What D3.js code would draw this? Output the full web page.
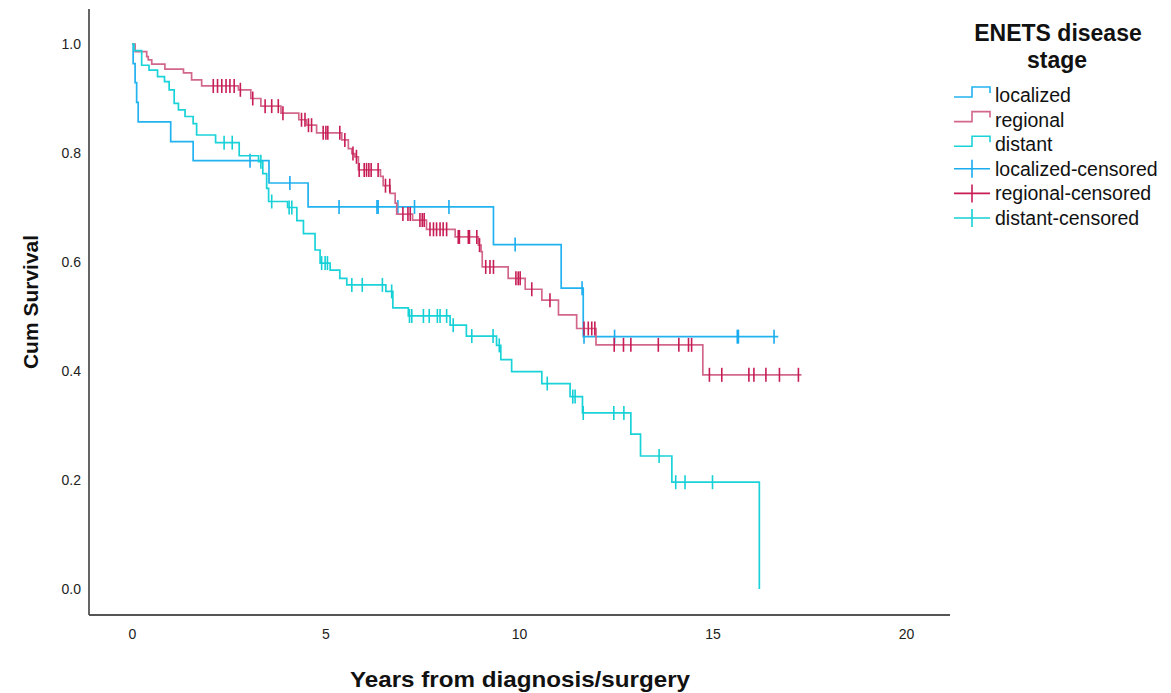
<!DOCTYPE html>
<html>
<head>
<meta charset="utf-8">
<script src="https://cdn.jsdelivr.net/npm/d3@7"></script>
<style>
  body { margin: 0; background: #fff; }
  text { font-family: "Liberation Sans", Arial, sans-serif; }
</style>
</head>
<body>
<script>
// Kaplan-Meier data: event times, survival after each event, censor times
const localizedT = [0.03, 0.08, 0.12, 0.16, 1.00, 1.58, 3.54, 4.55, 9.34, 11.09, 11.66];
const localizedS = [0.964, 0.929, 0.893, 0.857, 0.821, 0.786, 0.745, 0.701, 0.632, 0.552, 0.463];
const localizedCens = [3.05, 4.08, 5.35, 6.33, 6.36, 6.87, 7.30, 8.19, 9.90, 11.63, 11.68, 12.47, 15.64, 15.67, 16.59];
const localizedEnd = 16.70;

const regionalT = [0.08, 0.38, 0.42, 0.51, 0.85, 1.33, 1.54, 1.80, 2.75, 3.07, 3.33, 3.85, 4.31, 4.51, 4.77,
  5.42, 5.59, 5.68, 5.76, 5.85, 6.42, 6.49, 6.67, 6.80, 6.84, 7.25, 7.61, 8.35, 8.95, 9.02, 9.05, 9.72,
  10.16, 10.59, 11.02, 11.49, 11.99, 14.75];
const regionalS = [0.986, 0.977, 0.971, 0.963, 0.954, 0.947, 0.934, 0.923, 0.916, 0.900, 0.886, 0.873, 0.861, 0.851, 0.837,
  0.824, 0.808, 0.799, 0.793, 0.769, 0.757, 0.740, 0.726, 0.708, 0.688, 0.677, 0.660, 0.646, 0.631, 0.619, 0.591, 0.570,
  0.550, 0.530, 0.503, 0.478, 0.448, 0.393];
const regionalCens = [2.10, 2.21, 2.32, 2.43, 2.53, 2.64, 2.80, 3.12, 3.44, 3.61, 3.78, 3.90, 4.38, 4.47, 4.56, 4.64,
  4.94, 5.01, 5.06, 5.37, 5.50, 5.71, 5.80, 5.87, 6.00, 6.06, 6.12, 6.18, 6.36, 6.55, 6.66, 7.00, 7.13, 7.19,
  7.44, 7.50, 7.55, 7.70, 7.79, 7.87, 7.96, 8.04, 8.13, 8.43, 8.46, 8.69, 8.72, 8.91, 8.98, 9.14, 9.25, 9.34,
  9.92, 9.98, 10.03, 10.33, 10.80, 11.68, 11.79, 11.88, 11.96, 12.46, 12.70, 12.89, 13.60, 14.13, 14.38, 14.46,
  14.92, 15.24, 15.94, 16.07, 16.38, 16.73, 17.22];
const regionalEnd = 17.30;

const distantT = [0.05, 0.25, 0.44, 0.66, 0.84, 0.96, 1.09, 1.20, 1.37, 1.58, 1.67, 2.16, 2.77, 3.27, 3.38, 3.48, 3.53,
  4.02, 4.26, 4.43, 4.73, 4.86, 5.12, 5.37, 5.55, 6.56, 6.74, 7.14, 8.22, 8.64, 9.42, 9.53, 9.81, 10.59, 11.32,
  11.64, 12.89, 13.14, 13.95, 16.21];
const distantS = [0.988, 0.961, 0.952, 0.940, 0.931, 0.916, 0.891, 0.879, 0.867, 0.854, 0.833, 0.819, 0.795, 0.784, 0.762, 0.735, 0.711,
  0.700, 0.676, 0.652, 0.622, 0.598, 0.585, 0.570, 0.558, 0.546, 0.516, 0.501, 0.484, 0.464, 0.447, 0.421, 0.399, 0.377, 0.353,
  0.323, 0.284, 0.244, 0.196, 0.0];
const distantCens = [2.38, 2.59, 3.33, 3.61, 4.06, 4.13, 4.90, 4.99, 5.05, 5.68, 5.95, 6.47, 6.71, 7.17, 7.23, 7.53, 7.68,
  7.89, 7.96, 8.13, 8.30, 8.78, 9.33, 9.49, 10.73, 11.39, 11.45, 11.66, 12.45, 12.71, 13.62, 14.05, 14.29, 15.00];
const distantEnd = 16.21;

const xTicks = [0, 5, 10, 15, 20];
const yTicks = [0, 0.2, 0.4, 0.6, 0.8, 1.0];

const groups = [
  { name: "localized", t: localizedT, s: localizedS, cens: localizedCens, end: localizedEnd, line: "#22b2f0", mark: "#1aacef" },
  { name: "regional", t: regionalT, s: regionalS, cens: regionalCens, end: regionalEnd, line: "#d2678a", mark: "#c81c55" },
  { name: "distant", t: distantT, s: distantS, cens: distantCens, end: distantEnd, line: "#1ad3d8", mark: "#14d0d6" }
];

const w = 1171, h = 693;
const svg = d3.select("body").append("svg").attr("width", w).attr("height", h);

const x = d3.scaleLinear().domain([0, 20]).range([132, 906]);
const y = d3.scaleLinear().domain([0, 1]).range([589, 44]);

// frame (left and bottom lines)
svg.append("line").attr("x1", 89).attr("x2", 89).attr("y1", 9).attr("y2", 615)
  .attr("stroke", "#555").attr("stroke-width", 1.8);
svg.append("line").attr("x1", 89).attr("x2", 950).attr("y1", 615).attr("y2", 615)
  .attr("stroke", "#555").attr("stroke-width", 1.8);

// axes, labels only
const yAxis = svg.append("g").attr("transform", "translate(83,0)")
  .call(d3.axisLeft(y).tickValues(yTicks).tickSize(0).tickPadding(2).tickFormat(d3.format(".1f")));
const xAxis = svg.append("g").attr("transform", "translate(0,627)")
  .call(d3.axisBottom(x).tickValues(xTicks).tickSize(0).tickPadding(2));
[yAxis, xAxis].forEach(a => {
  a.select(".domain").remove();
  a.selectAll("text").style("font-size", "14px").style("fill", "#222")
    .style("font-family", "'Liberation Sans', Arial, sans-serif");
});

// axis titles
svg.append("text").attr("x", 520).attr("y", 687).attr("text-anchor", "middle")
  .style("font-size", "22px").style("font-weight", "bold").style("fill", "#111")
  .attr("textLength", 340).attr("lengthAdjust", "spacingAndGlyphs")
  .text("Years from diagnosis/surgery");
svg.append("text").attr("transform", "translate(38,302) rotate(-90)").attr("text-anchor", "middle")
  .style("font-size", "21px").style("font-weight", "bold").style("fill", "#111")
  .text("Cum Survival");

function survAt(g, t) {
  let s = 1;
  for (let i = 0; i < g.t.length; i++) if (g.t[i] <= t) s = g.s[i];
  return s;
}

const line = d3.line().x(d => x(d[0])).y(d => y(d[1])).curve(d3.curveStepAfter);

groups.forEach(g => {
  const pts = [[0, 1]].concat(g.t.map((t, i) => [t, g.s[i]]));
  pts.push([g.end, g.s[g.s.length - 1]]);
  svg.append("path").datum(pts).attr("d", line)
    .attr("fill", "none").attr("stroke", g.line).attr("stroke-width", 1.7);

  svg.append("g").selectAll("line").data(g.cens).enter().append("line")
    .attr("x1", d => x(d)).attr("x2", d => x(d))
    .attr("y1", d => y(survAt(g, d)) - 7).attr("y2", d => y(survAt(g, d)) + 7)
    .attr("stroke", g.mark).attr("stroke-width", 1.6);
});

// legend
const lg = svg.append("g");
lg.append("text").attr("x", 1058).attr("y", 41).attr("text-anchor", "middle")
  .style("font-size", "23px").style("font-weight", "bold").style("fill", "#111").text("ENETS disease");
lg.append("text").attr("x", 1057).attr("y", 68).attr("text-anchor", "middle")
  .style("font-size", "23px").style("font-weight", "bold").style("fill", "#111").text("stage");

const legendItems = groups.map(g => ({ label: g.name, type: "step", color: g.line }))
  .concat(groups.map(g => ({ label: g.name + "-censored", type: "cens", color: g.mark })));

const item = lg.selectAll(".legend-item").data(legendItems).enter().append("g")
  .attr("class", "legend-item")
  .attr("transform", (d, i) => `translate(954,${95 + i * 24.6})`);

item.append("path")
  .attr("d", d => d.type === "step" ? "M0,2H18V-8H36V-2" : "M0,0H36M18,-9V9")
  .attr("fill", "none").attr("stroke", d => d.color).attr("stroke-width", 1.6);

item.append("text").attr("x", 41).attr("y", 7)
  .style("font-size", "19.5px").style("fill", "#111").text(d => d.label);
</script>
</body>
</html>
